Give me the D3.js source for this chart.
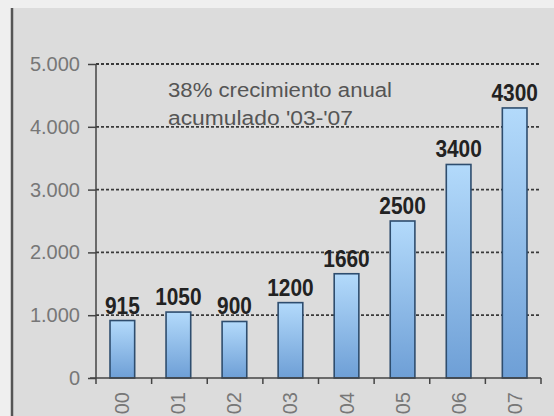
<!DOCTYPE html>
<html>
<head>
<meta charset="utf-8">
<script src="https://cdn.jsdelivr.net/npm/d3@7"></script>
<style>
  body { margin: 0; background: #efefef; }
  .grid line { stroke: #3a3a3a; stroke-width: 1.8px; stroke-dasharray: 3,2; }
  .axis path, .axis line { stroke: #444; stroke-width: 1.5px; }
  .axis text { fill: #777; font-family: "Liberation Sans", Arial, sans-serif; font-size: 20px; }
  .val { fill: #222; font-family: "Liberation Sans", Arial, sans-serif; font-weight: bold; font-size: 23px; }
  .note { fill: #555; font-family: "Liberation Sans", Arial, sans-serif; font-size: 20px; }
</style>
</head>
<body>
<svg id="chart" width="554" height="416"></svg>
<script>

/// chart data
var years = ["00", "01", "02", "03", "04", "05", "06", "07"];
var values = [915, 1050, 900, 1200, 1660, 2500, 3400, 4300];
var yTicks = [0, 1000, 2000, 3000, 4000, 5000];
var yTickLabels = ["0", "1.000", "2.000", "3.000", "4.000", "5.000"];
var note = ["38% crecimiento anual", "acumulado '03-'07"];

var svg = d3.select("#chart");

/// panel background and left border
svg.append("rect").attr("x", 12).attr("y", 8).attr("width", 542).attr("height", 408).attr("fill", "#dcdcdc");
svg.append("line").attr("x1", 12).attr("x2", 12).attr("y1", 8).attr("y2", 416)
    .attr("stroke", "#555").attr("stroke-width", 2.5);

var x = d3.scaleBand().domain(years).range([96, 541]).paddingInner(0.56).paddingOuter(0.25);
var xb = d3.scaleLinear().domain([0, years.length]).range([96, 541]); /// category boundaries for ticks
var y = d3.scaleLinear().domain([0, 5000]).range([378, 64]);

/// gradient for bars
var grad = svg.append("defs").append("linearGradient")
    .attr("id", "barGrad").attr("x1", 0).attr("y1", 0).attr("x2", 0).attr("y2", 1);
grad.append("stop").attr("offset", "0%").attr("stop-color", "#b3dafb");
grad.append("stop").attr("offset", "100%").attr("stop-color", "#6e9fd6");

/// gridlines
svg.append("g").attr("class", "grid")
  .selectAll("line").data(yTicks.slice(1)).enter().append("line")
    .attr("x1", 96).attr("x2", 541)
    .attr("y1", function(d) { return y(d); })
    .attr("y2", function(d) { return y(d); });

/// bars
svg.append("g").selectAll("rect").data(values).enter().append("rect")
    .attr("x", function(d, i) { return x(years[i]); })
    .attr("y", function(d) { return y(d); })
    .attr("width", x.bandwidth())
    .attr("height", function(d) { return y(0) - y(d); })
    .attr("fill", "url(#barGrad)")
    .attr("stroke", "#2e4d6e")
    .attr("stroke-width", 1.6);

/// value labels
svg.append("g").selectAll("text").data(values).enter().append("text")
    .attr("class", "val")
    .attr("x", function(d, i) { return x(years[i]) + x.bandwidth() / 2; })
    .attr("y", function(d) { return y(d) - 7; })
    .attr("text-anchor", "middle")
    .attr("textLength", function(d) { return String(d).length * 11.6; })
    .attr("lengthAdjust", "spacingAndGlyphs")
    .text(function(d) { return d; });

/// y axis
var yAxis = d3.axisLeft(y).tickValues(yTicks).tickSize(8).tickPadding(8)
    .tickFormat(function(d, i) { return yTickLabels[i]; });
var gy = svg.append("g").attr("class", "axis").attr("transform", "translate(96,0)").call(yAxis);
gy.select(".domain").attr("d", "M0,64V384");

/// x axis: ticks at category boundaries, labels rotated
var gx = svg.append("g").attr("class", "axis");
gx.append("line").attr("x1", 90).attr("x2", 541).attr("y1", y(0)).attr("y2", y(0));
gx.selectAll(".tk").data(d3.range(1, years.length + 1)).enter().append("line")
    .attr("class", "tk")
    .attr("x1", function(d) { return xb(d); }).attr("x2", function(d) { return xb(d); })
    .attr("y1", y(0)).attr("y2", y(0) + 6);
gx.selectAll("text").data(years).enter().append("text")
    .attr("transform", function(d) {
      return "translate(" + (x(d) + x.bandwidth() / 2 + 7) + ",392) rotate(-90)";
    })
    .attr("text-anchor", "end")
    .text(function(d) { return d; });

/// annotation
svg.append("text").attr("class", "note").attr("x", 168).attr("y", 97)
    .attr("textLength", 224).attr("lengthAdjust", "spacingAndGlyphs").text(note[0]);
svg.append("text").attr("class", "note").attr("x", 168).attr("y", 125)
    .attr("textLength", 185).attr("lengthAdjust", "spacingAndGlyphs").text(note[1]);

</script>
</body>
</html>
